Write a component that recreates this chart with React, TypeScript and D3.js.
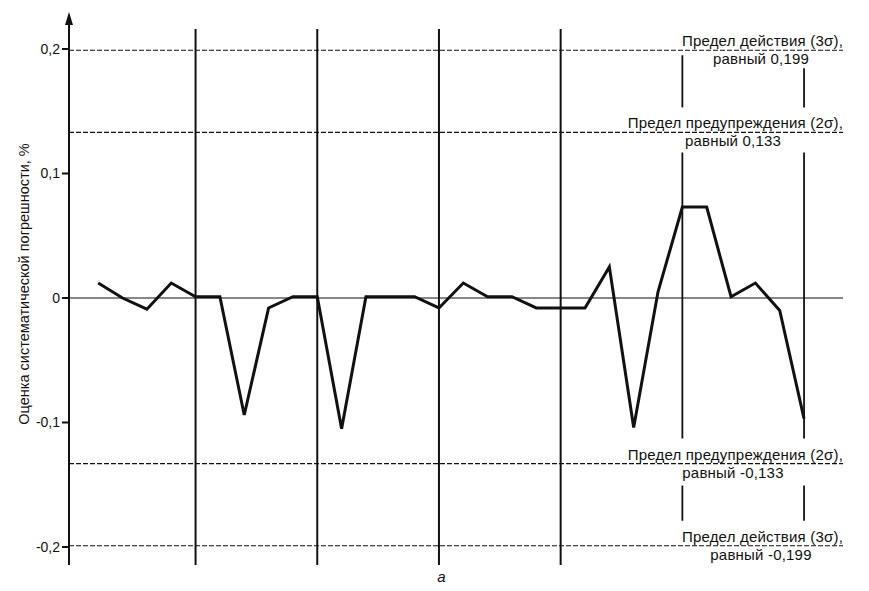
import React from "react";
import * as d3 from "d3";

const samples = [1,2,3,4,5,6,7,8,9,10,11,12,13,14,15,16,17,18,19,20,21,22,23,24,25,26,27,28,29,30];
const values = [0.012, 0.0, -0.009, 0.012, 0.001, 0.001, -0.094, -0.008, 0.001, 0.001,
  -0.105, 0.001, 0.001, 0.001, -0.008, 0.012, 0.001, 0.001, -0.008, -0.008,
  -0.008, 0.025, -0.104, 0.005, 0.073, 0.073, 0.001, 0.012, -0.01, -0.097];
const yTicks = [0.2, 0.1, 0, -0.1, -0.2];
const yTickLabels = ["0,2", "0,1", "0", "-0,1", "-0,2"];
const groupBounds = [5, 10, 15, 20, 25, 30];
const limitValues = [0.199, 0.133, -0.133, -0.199];
const limitTitles = ["Предел действия (3σ),", "Предел предупреждения (2σ),", "Предел предупреждения (2σ),", "Предел действия (3σ),"];
const limitSubtitles = ["равный 0,199", "равный 0,133", "равный -0,133", "равный -0,199"];
const yAxisTitle = "Оценка систематической погрешности, %";
const xCaption = "а";

export default function App() {
  const W = 869, H = 591;
  const x = d3.scaleLinear().domain([-0.2, 31.6]).range([69, 843]);
  const y = d3.scaleLinear().domain([-0.2, 0.2]).range([547, 49]);
  const axisX = x(-0.2);
  const rightX = x(31.6);
  const topY = 29;
  const bottomY = 565;
  const line = d3.line<number>().x((_, i) => x(samples[i])).y((d) => y(d));
  const font = "'Liberation Sans', Arial, sans-serif";
  const ink = "#111";
  const fs = 15;

  const centers = [761, 733, 733, 761];

  const brokenSegs = (isRight: boolean) => [
    [isRight ? y(0.199) + 18 : y(0.199) + 5, y(0.133) - 25],
    [y(0.133) + 20, y(-0.133) - 25],
    [y(-0.133) + 22, y(-0.199) - 25],
  ];

  return (
    <svg width={W} height={H} style={{ position: "absolute", left: 0, top: 0, background: "#fff" }}>
      {limitValues.map((v, i) => (
        <line key={"lim" + i} x1={axisX} x2={rightX} y1={y(v)} y2={y(v)}
          stroke={ink} strokeWidth={1.1} strokeDasharray="5,2" />
      ))}
      <line x1={axisX} x2={rightX} y1={y(0)} y2={y(0)} stroke={ink} strokeWidth={1.1} />
      {groupBounds.map((g, i) => {
        const gx = x(g);
        if (i >= 4) {
          return brokenSegs(i === 5).map((s, j) => (
            <line key={"gb" + i + "-" + j} x1={gx} x2={gx} y1={s[0]} y2={s[1]} stroke={ink} strokeWidth={1.8} />
          ));
        }
        return <line key={"gb" + i} x1={gx} x2={gx} y1={topY} y2={bottomY} stroke={ink} strokeWidth={2} />;
      })}
      <line x1={axisX} x2={axisX} y1={20} y2={bottomY} stroke={ink} strokeWidth={2} />
      <path d={`M${axisX},12 L${axisX - 4},25 L${axisX + 4},25 Z`} fill={ink} />
      {yTicks.map((t, i) => (
        <g key={"yt" + i}>
          <line x1={axisX - 7} x2={axisX} y1={y(t)} y2={y(t)} stroke={ink} strokeWidth={2} />
          <text x={axisX - 9} y={y(t)} dy="0.35em" textAnchor="end" fontFamily={font} fontSize={14} fill={ink}>
            {yTickLabels[i]}
          </text>
        </g>
      ))}
      <path d={line(values) || ""} fill="none" stroke={ink} strokeWidth={3} strokeLinejoin="miter" />
      {limitValues.map((v, i) => (
        <g key={"ll" + i} fontFamily={font} fontSize={fs} fill={ink} letterSpacing={0.2}>
          <text x={rightX} y={y(v) - 4} textAnchor="end">{limitTitles[i]}</text>
          <text x={centers[i]} y={y(v) + 14} textAnchor="middle">{limitSubtitles[i]}</text>
        </g>
      ))}
      <text transform={`translate(29, ${284}) rotate(-90)`} textAnchor="middle" fontFamily={font} fontSize={14.5} fill={ink}>
        {yAxisTitle}
      </text>
      <text x={x(15.1)} y={582} textAnchor="middle" fontFamily={font} fontSize={15} fontStyle="italic" fill={ink}>
        {xCaption}
      </text>
    </svg>
  );
}
